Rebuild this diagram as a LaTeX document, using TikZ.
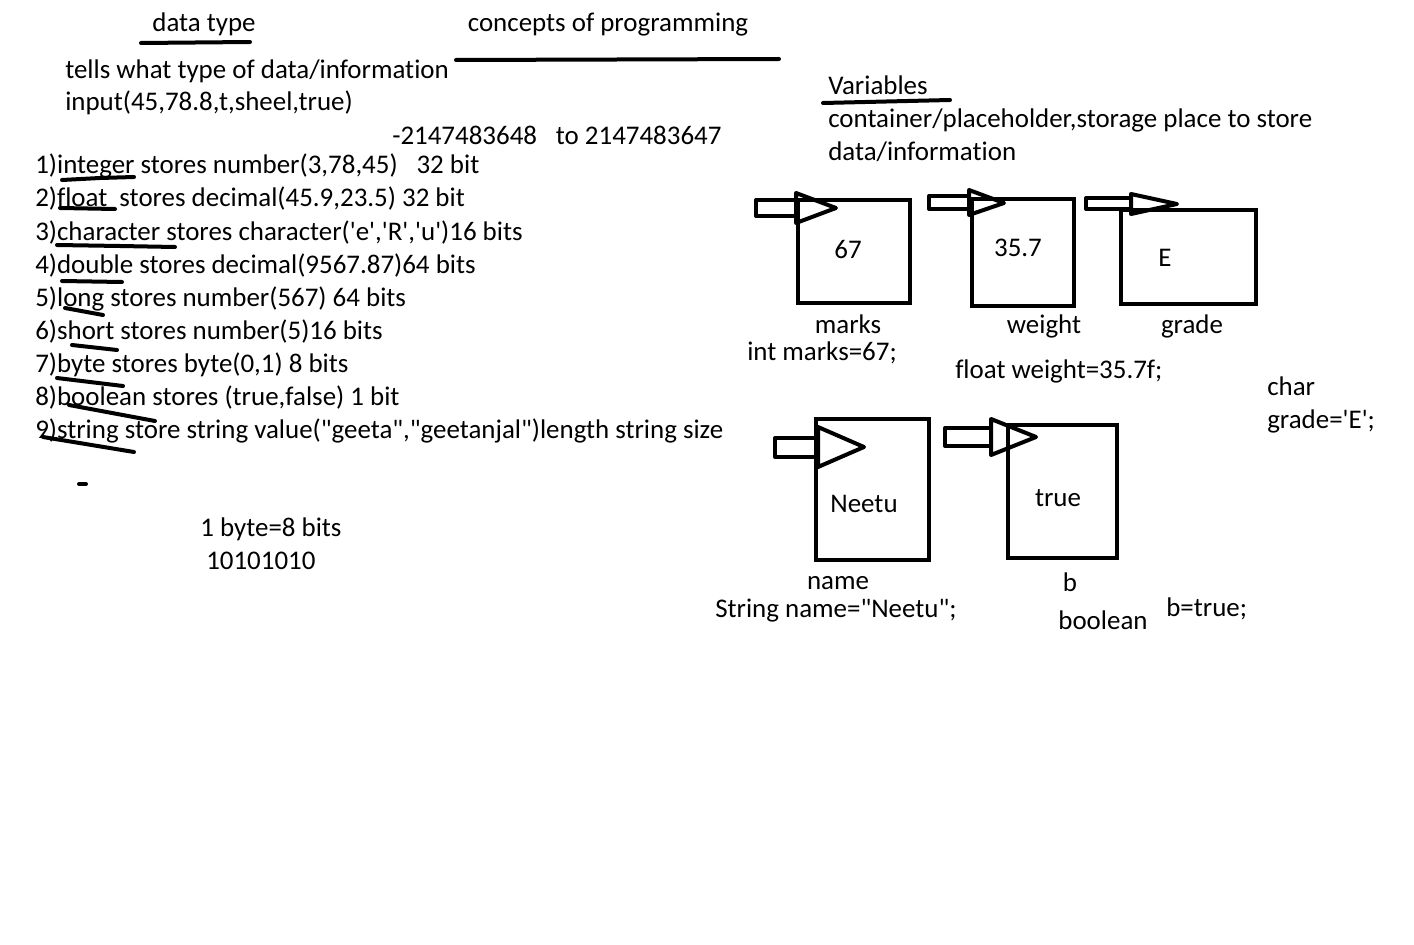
\documentclass[tikz,border=0pt]{standalone}
\usepackage{fontspec}
\setmainfont{Carlito}[Ligatures={TeXOff,CommonOff}]
\begin{document}
\begin{tikzpicture}[x=0.75pt,y=-0.75pt,
  txt/.style={inner sep=0pt,anchor=base west,font=\fontsize{20.2}{24}\selectfont},
  ctxt/.style={inner sep=0pt,anchor=base,font=\fontsize{20.2}{24}\selectfont},
  pen/.style={line width=3pt,line cap=round,line join=round},
  cell/.style={draw,line width=3pt,inner sep=0pt},
  blk/.style={line width=3pt,line join=round}]
\useasboundingbox[fill=white] (0,0) rectangle (1414,945);
% header
\node[ctxt] (dt) at (204,32) {data type};
\node[ctxt] (cp) at (608,32) {concepts of programming};
\coordinate (u1a) at (141,43); \coordinate (u1b) at (250,42);
\draw[pen] (u1a) -- (u1b);
\coordinate (u2a) at (456,60); \coordinate (u2b) at (779,59);
\draw[pen] (u2a) -- (u2b);
\node[txt] (t1) at (65,79) {tells what type of data/information};
\node[txt] (t2) at (65,111) {input(45,78.8,t,sheel,true)};
\node[txt] (rng) at (392,145) {-2147483648\hspace{0.7em}to 2147483647};
% list
\node[txt] (l1) at (35,174) {1)integer stores number(3,78,45)\hspace{0.7em}32 bit};
\node[txt] (l2) at (35,207) {2)float\ \ stores decimal(45.9,23.5) 32 bit};
\node[txt] (l3) at (35,240) {3)character stores character('e','R','u')16 bits};
\node[txt] (l4) at (35,273) {4)double stores decimal(9567.87)64 bits};
\node[txt] (l5) at (35,306) {5)long stores number(567) 64 bits};
\node[txt] (l6) at (35,339) {6)short stores number(5)16 bits};
\node[txt] (l7) at (35,372) {7)byte stores byte(0,1) 8 bits};
\node[txt] (l8) at (35,405) {8)boolean stores (true,false) 1 bit};
\node[txt] (l9) at (35,438) {9)string store string value("geeta","geetanjal")length string size};
% hand underlines
\draw[pen] (62,180) -- (100,178) -- (134,177);
\draw[pen] (60,208) -- (115,209);
\draw[pen] (57,245) -- (120,246) -- (175,247);
\draw[pen] (62,281) -- (122,282);
\draw[pen] (65,308) -- (103,315);
\draw[pen] (72,345) -- (117,350);
\draw[pen] (57,378) -- (123,386);
\draw[pen] (69,405) -- (155,421);
\draw[pen] (43,437) -- (134,452);
\draw[pen] (79,484) -- (86,484);
\node[txt] (by) at (200,536) {1 byte=8 bits};
\node[txt] (bits) at (206,569) {10101010};
% variables
\node[txt] (var) at (828,95) {Variables};
\draw[pen] (823,103) -- (950,100);
\node[txt] (c1) at (828,128) {container/placeholder,storage place to store};
\node[txt] (c2) at (828,161) {data/information};
% boxes row 1
\node[cell,minimum width=112*0.75pt,minimum height=103*0.75pt] (bm) at (854,251.5) {};
\node[ctxt] (v67) at (848,258) {67};
\node[cell,minimum width=102*0.75pt,minimum height=107*0.75pt] (bw) at (1023,252.5) {};
\node[ctxt] (v357) at (1018,257) {35.7};
\node[cell,minimum width=135*0.75pt,minimum height=94*0.75pt] (bg) at (1188.5,257) {};
\node[ctxt] (vE) at (1165,267) {E};
% block arrows row 1
\draw[blk] (756,200) rectangle (797,216);
\draw[blk] (796,193) -- (836,208) -- (796,223) -- cycle;
\draw[blk] (929,196) rectangle (969,209);
\draw[blk] (969,190) -- (1004,203) -- (969,215) -- cycle;
\draw[blk] (1086,198) rectangle (1131,209);
\draw[blk] (1131,194) -- (1177,204) -- (1131,214) -- cycle;
% labels row 1
\node[ctxt] (nm) at (848,333) {marks};
\node[ctxt] (nw) at (1044,333) {weight};
\node[ctxt] (ng) at (1192,333) {grade};
\node[txt] (dm) at (747,360) {int marks=67;};
\node[txt] (dw) at (955,378) {float weight=35.7f;};
\node[txt] (dg1) at (1267,395) {char};
\node[txt] (dg2) at (1267,428) {grade='E';};
% boxes row 2
\node[cell,minimum width=113*0.75pt,minimum height=141*0.75pt] (bn) at (872.5,489.5) {};
\node[ctxt] (vn) at (864,512) {Neetu};
\node[cell,minimum width=109*0.75pt,minimum height=133*0.75pt] (bb) at (1062.5,491.5) {};
\node[ctxt] (vt) at (1058,506) {true};
\draw[blk] (775,438) rectangle (818,457);
\draw[blk] (818,427) -- (864,447) -- (818,467) -- cycle;
\draw[blk] (945,428) rectangle (991,446);
\draw[blk] (991,419) -- (1036,437) -- (991,455) -- cycle;
\node[ctxt] (nn) at (838,589) {name};
\node[txt] (dn) at (715,617) {String name="Neetu";};
\node[ctxt] (nb) at (1070,591) {b};
\node[ctxt] (db1) at (1103,629) {boolean};
\node[txt] (db2) at (1166,616) {b=true;};
\end{tikzpicture}
\end{document}
